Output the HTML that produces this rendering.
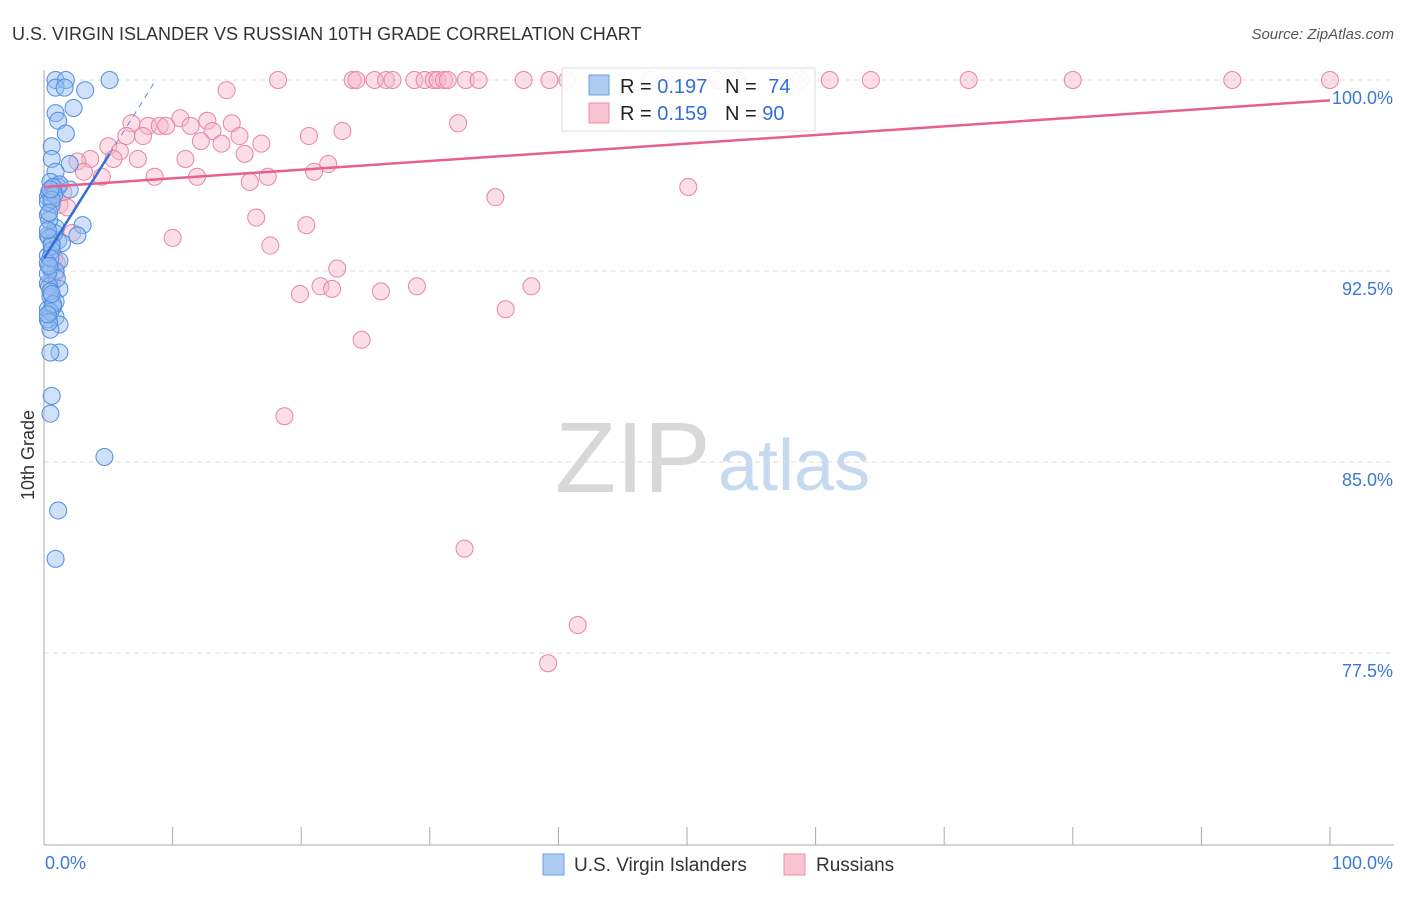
<!DOCTYPE html>
<html><head><meta charset="utf-8"><style>
body{margin:0;background:#fff;font-family:"Liberation Sans",sans-serif;}
svg text{font-family:"Liberation Sans",sans-serif;}
</style></head><body>
<svg id="chart" width="1406" height="892" xmlns="http://www.w3.org/2000/svg">
<text x="12" y="40" font-size="18" fill="#333">U.S. VIRGIN ISLANDER VS RUSSIAN 10TH GRADE CORRELATION CHART</text>
<text x="1394" y="39" font-size="15" fill="#555" text-anchor="end" font-style="italic">Source: ZipAtlas.com</text>
<g>
<text x="555" y="492" font-size="100" fill="#d8d8d8" font-family="Liberation Serif,serif">ZIP</text>
<text x="718" y="490" font-size="72" fill="#c5d9f0">atlas</text>
</g>
<g id="grid"></g>
<g id="axes"></g>
<g id="pink"></g>
<g id="blue"></g>
<g id="lines"></g>
<text x="34" y="455" font-size="18" fill="#333" text-anchor="middle" transform="rotate(-90 34 455)">10th Grade</text>
<g>
<rect x="562" y="68" width="253" height="63" fill="#fff" fill-opacity="0.9" stroke="#ddd"/>
<rect x="589" y="75" width="20" height="20" fill="#aecbf0" stroke="#6a9fe0"/>
<rect x="589" y="103" width="20" height="20" fill="#f8c3d2" stroke="#eb8fab"/>
<text x="620" y="93" font-size="20" fill="#222">R = <tspan fill="#2f6fd6">0.197</tspan></text>
<text x="725" y="93" font-size="20" fill="#222">N = <tspan fill="#2f6fd6" dx="6">74</tspan></text>
<text x="620" y="120" font-size="20" fill="#222">R = <tspan fill="#2f6fd6">0.159</tspan></text>
<text x="725" y="120" font-size="20" fill="#222">N = <tspan fill="#2f6fd6">90</tspan></text>
</g>
<g>
<rect x="543" y="854" width="21" height="21" fill="#aecbf0" stroke="#6a9fe0"/>
<text x="574" y="871" font-size="19" fill="#333">U.S. Virgin Islanders</text>
<rect x="784" y="854" width="21" height="21" fill="#f8c3d2" stroke="#eb8fab"/>
<text x="816" y="871" font-size="19" fill="#333">Russians</text>
</g>
</svg>
<script>
const yTicks=[100,92.5,85,77.5];
const yTickLabels=["100.0%","92.5%","85.0%","77.5%"];
const blueX=[0.9,1.7,5.1,0.9,1.6,3.2,2.3,0.9,1.1,1.7,0.6,0.6,2.0,0.9,0.5,1.1,2.0,0.3,0.6,0.3,3.0,0.9,0.3,1.1,2.6,0.6,1.4,0.3,1.2,0.5,0.9,0.3,1.2,0.5,0.9,0.3,0.9,1.2,0.5,1.2,0.5,0.6,0.5,4.7,1.1,0.9,1.2,0.4,0.7,0.3,0.8,0.4,0.6,0.3,1.0,0.4,0.7,0.3,0.5,0.8,0.4,0.6,0.3,0.5,0.7,0.4,0.6,0.3,0.5,0.4,0.6,0.3,0.5,0.4];
const blueY=[100,100,100,99.7,99.7,99.6,98.9,98.7,98.4,97.9,97.4,96.9,96.7,96.4,96.0,95.8,95.7,95.4,95.1,94.7,94.3,94.2,93.9,93.7,93.9,93.6,93.6,93.1,92.9,92.6,92.5,92.0,91.8,91.5,91.3,91.0,90.7,90.4,90.2,89.3,89.3,87.6,86.9,85.2,83.1,81.2,95.9,95.6,95.8,95.2,94.0,93.8,93.3,92.8,92.2,91.9,91.1,90.6,90.9,95.5,94.5,93.5,92.4,91.7,91.2,90.5,95.3,94.1,93.0,92.7,91.6,90.8,95.7,94.8];
const pinkX=[18.2,24.0,24.3,25.7,26.6,27.1,28.8,29.6,30.3,30.6,31.1,31.4,32.8,33.8,37.3,39.3,40.7,47.1,52.4,53.9,58.8,61.1,64.3,71.9,80.0,92.4,100,14.2,10.6,12.7,6.8,14.6,32.2,8.1,9.0,9.5,11.4,13.1,23.2,6.4,7.7,15.2,20.6,12.2,16.9,13.8,5.0,5.9,15.6,11.0,7.3,3.6,2.6,5.4,22.1,21.0,3.1,8.6,11.9,17.4,16.0,4.5,50.1,1.2,35.1,1.2,1.8,16.5,20.4,10.0,17.6,2.2,22.8,0.9,21.5,22.4,29.0,37.9,26.2,19.9,35.9,24.7,18.7,32.7,41.5,39.2,0.8,1.5,0.6,1.0];
const pinkY=[100,100,100,100,100,100,100,100,100,100,100,100,100,100,100,100,100,100,100,100,100,100,100,100,100,100,100,99.6,98.5,98.4,98.3,98.3,98.3,98.2,98.2,98.2,98.2,98.0,98.0,97.8,97.8,97.8,97.8,97.6,97.5,97.5,97.4,97.2,97.1,96.9,96.9,96.9,96.8,96.9,96.7,96.4,96.4,96.2,96.2,96.2,96.0,96.2,95.8,95.9,95.4,95.1,95.0,94.6,94.3,93.8,93.5,94.0,92.6,92.4,91.9,91.8,91.9,91.9,91.7,91.6,91.0,89.8,86.8,81.6,78.6,77.1,93.0,95.6,92.0,92.8];
const blueTrend=[[0,93.0],[5.1,97.1]];
const blueTrendExt=[[5.1,97.1],[8.7,100]];
const pinkTrend=[[0,95.8],[100,99.2]];

const NS="http://www.w3.org/2000/svg";
const X0=44,X1=1330,Y100=80,PXPER=25.47;
const sx=v=>X0+(X1-X0)*v/100;
const sy=v=>Y100+(100-v)*PXPER;
function mk(tag,attrs,parent){const e=document.createElementNS(NS,tag);for(const k in attrs)e.setAttribute(k,attrs[k]);parent.appendChild(e);return e;}
const grid=document.getElementById('grid'),axes=document.getElementById('axes');
yTicks.forEach((t,i)=>{
  const l=mk('line',{x1:X0,x2:1394,y1:sy(t),y2:sy(t),stroke:'#ddd','stroke-dasharray':'5,4'},grid);
  
  
  const tx=mk('text',{x:1393,y:sy(t)+24,'font-size':18,fill:'#3b78d8','text-anchor':'end'},axes);
  tx.textContent=yTickLabels[i];
  
  
});
const ax=mk('line',{x1:X0,x2:X0,y1:70,y2:845,stroke:'#aaa'},axes);


const bx=mk('line',{x1:X0,x2:1394,y1:845,y2:845,stroke:'#aaa'},axes);


for(let i=0;i<=10;i++){const t=mk('line',{x1:sx(i*10),x2:sx(i*10),y1:827,y2:845,stroke:'#aaa'},axes);

}
const xl0=mk('text',{x:45,y:869,'font-size':18,fill:'#3b78d8'},axes);xl0.textContent='0.0%';


const xl1=mk('text',{x:1393,y:869,'font-size':18,fill:'#3b78d8','text-anchor':'end'},axes);xl1.textContent='100.0%';


const pg=document.getElementById('pink');
pinkX.forEach((v,i)=>{const c=mk('circle',{cx:sx(v),cy:sy(pinkY[i]),r:8.5,fill:'#f7b6c9','fill-opacity':0.45,stroke:'#e984a3','stroke-width':1},pg);

});
const bg=document.getElementById('blue');
blueX.forEach((v,i)=>{const c=mk('circle',{cx:sx(v),cy:sy(blueY[i]),r:8.5,fill:'#94bdf0','fill-opacity':0.45,stroke:'#4f8ee0','stroke-width':1},bg);

});
const lg=document.getElementById('lines');
const pl=mk('line',{x1:sx(pinkTrend[0][0]),y1:sy(pinkTrend[0][1]),x2:sx(pinkTrend[1][0]),y2:sy(pinkTrend[1][1]),stroke:'#e8608a','stroke-width':2.5},lg);


const bl=mk('line',{x1:sx(blueTrend[0][0]),y1:sy(blueTrend[0][1]),x2:sx(blueTrend[1][0]),y2:sy(blueTrend[1][1]),stroke:'#2f6fd6','stroke-width':2.5},lg);


const be=mk('line',{x1:sx(blueTrendExt[0][0]),y1:sy(blueTrendExt[0][1]),x2:sx(blueTrendExt[1][0]),y2:sy(blueTrendExt[1][1]),stroke:'#5b8fdc','stroke-width':1,'stroke-dasharray':'6,5'},lg);


</script>
</body></html>
